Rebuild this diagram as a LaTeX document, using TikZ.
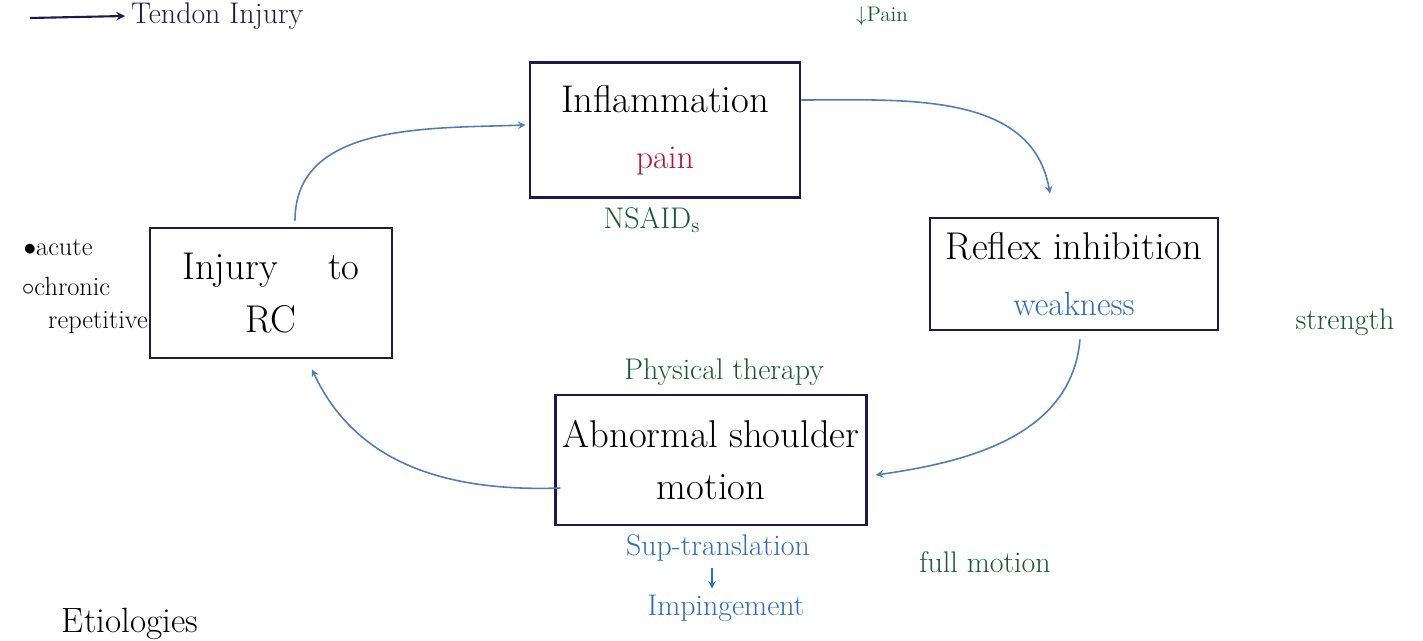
\documentclass[tikz,border=0pt]{standalone}
\usepackage{tikz}
\usetikzlibrary{calc}

\definecolor{inkbox}{RGB}{30,24,78}
\definecolor{inkflow}{RGB}{80,125,185}
\definecolor{inkgreen}{RGB}{22,88,60}
\definecolor{inkred}{RGB}{185,20,55}
\definecolor{inkblue}{RGB}{45,110,190}

\tikzset{
  stage/.style={draw=inkbox, line width=1.6pt, align=center, inner sep=4pt,
    font=\fontsize{22}{30}\selectfont},
  flow/.style={->, draw=inkflow, line width=0.9pt},
  note/.style={font=\fontsize{17}{20}\selectfont, align=left},
}

\begin{document}
\begin{tikzpicture}[x=0.02cm, y=-0.02cm, >=stealth]
  \useasboundingbox (0,0) rectangle (1423,641);

  % the four stages of the cycle
  \node[stage, minimum width=270*0.02cm, minimum height=135*0.02cm] (inflam) at (665,130)
    {Inflammation\\[2pt]{\color{inkred}\fontsize{19}{22}\selectfont pain}};
  \node[stage, minimum width=288*0.02cm, minimum height=112*0.02cm] (reflex) at (1074,274)
    {Reflex inhibition\\[2pt]{\color{inkblue}\fontsize{19}{22}\selectfont weakness}};
  \node[stage, minimum width=298*0.02cm, minimum height=130*0.02cm] (abnorm) at (711,460)
    {Abnormal shoulder\\motion};
  \node[stage, minimum width=242*0.02cm, minimum height=130*0.02cm] (injury) at (271,293)
    {Injury \quad to\\RC};

  % cycle arrows
  \draw[flow] ($(injury.north)+(24,-6)$) to[out=90,in=182] ($(inflam.west)+(-3,-5)$);
  \draw[flow] ($(inflam.east)+(0,-30)$) to[out=0,in=100] ($(reflex.north)+(-24,-23)$);
  \draw[flow] ($(reflex.south)+(6,8)$) to[out=-95,in=8] ($(abnorm.east)+(8,15)$);
  \draw[flow] ($(abnorm.west)+(6,28)$) to[out=182,in=-65] ($(injury.south)+(41,10)$);

  % notes
  \node[note, text=inkgreen] (nsaid) at (652,220) {NSAID\textsubscript{s}};
  \node[note, text=inkgreen, font=\fontsize{12}{14}\selectfont] (lesspain) at (882,16) {$\downarrow$Pain};
  \node[note, text=inkgreen] (strength) at (1345,322) {strength};
  \node[note, text=inkgreen] (fullmot) at (985,562) {full motion};
  \node[note, text=inkgreen] (physio) at (724,372) {Physical therapy};
  \node[note, text=inkblue] (suptrans) at (718,548) {Sup-translation};
  \node[note, text=inkblue] (imping) at (726,608) {Impingement};
  \draw[->, draw=inkblue, line width=0.9pt] ($(suptrans.south)+(-6,0)$) -- ($(imping.north)+(-14,0)$);

  \node[note, font=\fontsize{15}{18}\selectfont] (acute) at (58,248) {$\bullet$acute};
  \node[note, font=\fontsize{15}{18}\selectfont] (chronic) at (66,286) {$\circ$chronic};
  \node[note, font=\fontsize{15}{18}\selectfont] (repet) at (98,323) {repetitive};
  \node[note, font=\fontsize{20}{22}\selectfont] (etiol) at (130,624) {Etiologies};

  \node[note, text=inkbox, anchor=west] (tendon) at (125,16) {Tendon Injury};
  \coordinate (tendtail) at (30,18);
  \draw[->, draw=inkbox, line width=1.2pt] (tendtail) -- (tendon.west);
\end{tikzpicture}
\end{document}
